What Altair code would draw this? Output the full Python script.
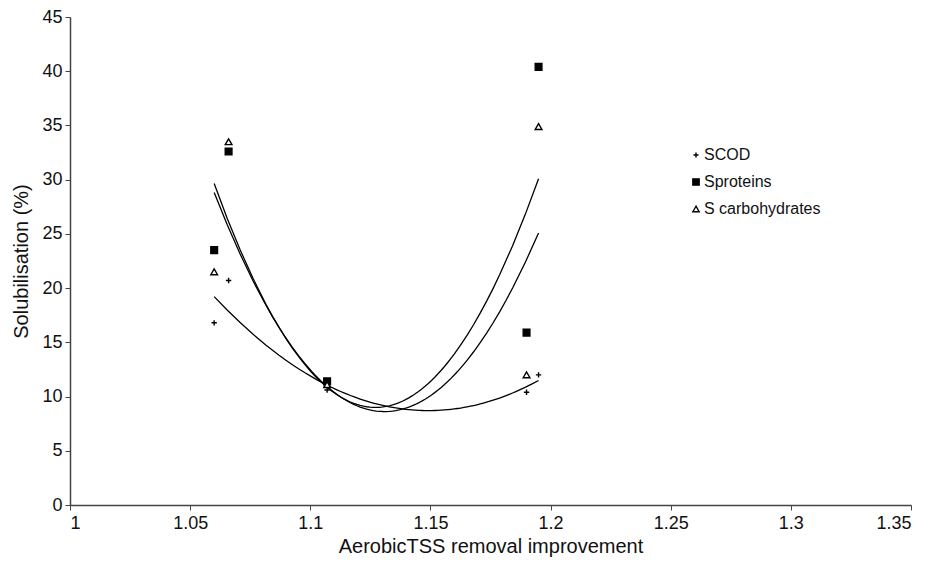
import altair as alt
import pandas as pd

x_vals = [1.060, 1.066, 1.107, 1.190, 1.195]
scod = [16.8, 20.7, 10.6, 10.4, 12.0]
sproteins = [23.5, 32.6, 11.4, 15.9, 40.4]
scarbs = [21.5, 33.5, 11.1, 12.0, 34.9]
series_names = ["SCOD", "Sproteins", "S carbohydrates"]
x_ticks = [1.0, 1.05, 1.1, 1.15, 1.2, 1.25, 1.3, 1.35]
y_ticks = [0, 5, 10, 15, 20, 25, 30, 35, 40, 45]

rows = []
for name, vals in zip(series_names, [scod, sproteins, scarbs]):
    for xv, yv in zip(x_vals, vals):
        rows.append({"x": xv, "y": yv, "series": name})
df = pd.DataFrame(rows)

FONT = "Liberation Sans"
plus_path = "M-0.8,0L0.8,0M0,-0.8L0,0.8"

xenc = alt.X("x:Q", scale=alt.Scale(domain=[1, 1.35], nice=False, zero=False),
             axis=alt.Axis(values=x_ticks, format=".2~f", title="AerobicTSS removal improvement"))
yenc = alt.Y("y:Q", scale=alt.Scale(domain=[0, 45], nice=False),
             axis=alt.Axis(values=y_ticks, title="Solubilisation (%)"))

base = alt.Chart(df)

points = base.mark_point(filled=False, strokeWidth=1.4, opacity=1, size=45).encode(
    x=xenc,
    y=yenc,
    shape=alt.Shape("series:N", title=None,
                    scale=alt.Scale(domain=series_names, range=[plus_path, "square", "triangle-up"]),
                    legend=alt.Legend(orient="none", legendX=618, legendY=130, padding=0,
                                      rowPadding=11, labelFontSize=16, labelFont=FONT,
                                      labelColor="#111", symbolSize=40, labelOffset=0,
                                      symbolStrokeWidth=1.4)),
    fill=alt.Fill("series:N", title=None,
                  scale=alt.Scale(domain=series_names, range=["black", "black", "white"])),
    stroke=alt.Stroke("series:N", title=None,
                      scale=alt.Scale(domain=series_names, range=["black", "black", "black"])),
)

lines = base.transform_regression("x", "y", method="poly", order=2, groupby=["series"]).mark_line(
    color="black", strokeWidth=1.3).encode(
    x=alt.X("x:Q"), y=alt.Y("y:Q"), detail="series:N")

chart = alt.layer(lines, points).properties(
    width=841, height=488,
    autosize=alt.AutoSizeParams(type="none"),
    padding={"left": 62, "top": 9, "right": 16, "bottom": 55},
).configure_view(stroke=None).configure_axis(
    grid=False, domainColor="#444", tickColor="#444", tickSize=5, domainWidth=1.5,
    labelFont=FONT, labelFontSize=18, labelColor="#111",
    titleFont=FONT, titleFontSize=20, titleFontWeight="normal", titleColor="#111",
).configure_axisX(labelPadding=4, titlePadding=4).configure_axisY(labelPadding=3, titlePadding=10)

chart.save("out.html", embed_options={"renderer": "svg", "actions": False})
